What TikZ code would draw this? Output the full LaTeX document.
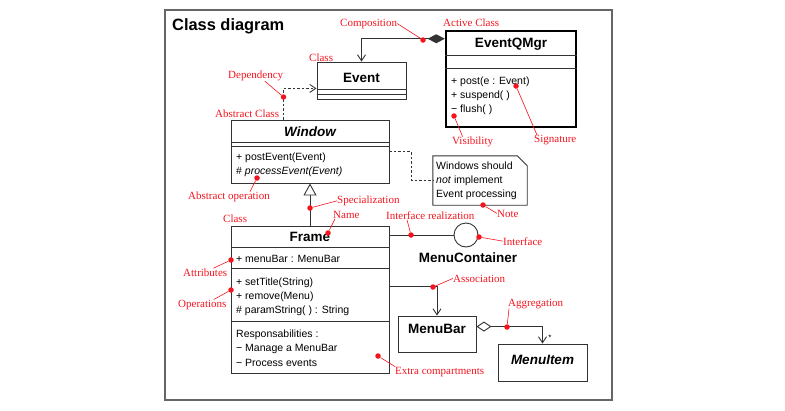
\documentclass[tikz,border=0pt]{standalone}
\usepackage{fontspec}
\setmainfont{Liberation Serif}
\setsansfont{Liberation Sans}
\usetikzlibrary{arrows.meta,calc}
\definecolor{remred}{RGB}{245,20,30}
\tikzset{
  box/.style={draw=black!80, line width=0.9pt, inner sep=0pt},
  link/.style={draw=black!80, line width=0.9pt},
  dotlink/.style={link, dash pattern=on 2.5pt off 2pt},
  cname/.style={font=\sffamily\bfseries\fontsize{13.5}{15}\selectfont, inner sep=0pt, anchor=base},
  member/.style={font=\sffamily\fontsize{10.5}{12}\selectfont, inner sep=0pt, anchor=base west},
  remark/.style={font=\fontsize{11}{12}\selectfont, text=remred, inner sep=0pt, anchor=base west},
  rdot/.style={circle, fill=remred, inner sep=0pt, minimum size=5.5pt},
  rline/.style={draw=remred, line width=0.6pt},
  barb/.style={-{Straight Barb[length=6pt,width=8pt]}},
}
\begin{document}
\begin{tikzpicture}[x=1pt, y=-1pt]
        \useasboundingbox (0,0) rectangle (785,410);
        \draw[black!60, line width=1.3pt] (165,10) rectangle (612,400);
        \node[font=\sffamily\bfseries\fontsize{16.4}{18}\selectfont, inner sep=0pt, anchor=base west] (title) at (172,30) {Class diagram};

        % classes
        \node[box, minimum width=89pt, minimum height=37pt] (event) at (361.5,80.5) {};
        \draw[link] (event.west |- 0,89) -- (event.east |- 0,89);
        \draw[link] (event.west |- 0,94) -- (event.east |- 0,94);
        \node[cname] (eventname) at (361.5,82) {Event};

        \node[draw=black, line width=2.5pt, inner sep=0pt, minimum width=130pt, minimum height=96pt] (qmgr) at (511,79) {};
        \draw[link] (qmgr.west |- 0,55) -- (qmgr.east |- 0,55);
        \draw[link] (qmgr.west |- 0,68) -- (qmgr.east |- 0,68);
        \node[cname] (qmgrname) at (511,47) {EventQMgr};
        \node[member] (qop1) at (451,84) {+ post(e : Event)};
        \node[member] (qop2) at (451,98) {+ suspend( )};
        \node[member] (qop3) at (451,112) {− flush( )};

        \node[box, minimum width=158pt, minimum height=63pt] (window) at (310,151.5) {};
        \draw[link] (window.west |- 0,142) -- (window.east |- 0,142);
        \draw[link] (window.west |- 0,146) -- (window.east |- 0,146);
        \node[cname, font=\sffamily\bfseries\itshape\fontsize{13.5}{15}\selectfont] (windowname) at (310,136) {Window};
        \node[member] (wop1) at (236,160) {+ postEvent(Event)};
        \node[member] (wop2) at (236,174) {\# \textit{processEvent(Event)}};

        \node[box, minimum width=158pt, minimum height=147pt] (frame) at (310,299.5) {};
        \draw[link] (frame.west |- 0,247) -- (frame.east |- 0,247);
        \draw[link] (frame.west |- 0,268) -- (frame.east |- 0,268);
        \draw[link] (frame.west |- 0,321) -- (frame.east |- 0,321);
        \node[cname] (framename) at (310,241) {Frame};
        \node[member] (fatt) at (236,262) {+ menuBar : MenuBar};
        \node[member] (fop1) at (236,285) {+ setTitle(String)};
        \node[member] (fop2) at (236,299) {+ remove(Menu)};
        \node[member] (fop3) at (236,313) {\# paramString( ) : String};
        \node[member] (fres1) at (236,337) {Responsabilities :};
        \node[member] (fres2) at (236,351.5) {− Manage a MenuBar};
        \node[member] (fres3) at (236,366) {− Process events};

        \node[box, minimum width=78pt, minimum height=36pt] (menubar) at (437,334) {};
        \node[cname] (menubarname) at (437,333) {MenuBar};
        \node[box, minimum width=89pt, minimum height=37pt] (menuitem) at (542.5,362.5) {};
        \node[cname, font=\sffamily\bfseries\itshape\fontsize{13.5}{15}\selectfont] (menuitemname) at (542.5,364) {MenuItem};

        \node[box, circle, minimum size=24pt] (iface) at (466,235) {};
        \node[cname] (ifacename) at (468,262) {MenuContainer};

        % note
        \node[minimum width=94pt, minimum height=49pt, inner sep=0pt] (note) at (480,180.5) {};
        \draw[link] (note.north west) -- ($(note.north east)+(-10,0)$) -- ($(note.north east)+(0,10)$) -- (note.south east) -- (note.south west) -- cycle;
        \node[member] (note1) at (436,169.5) {Windows should};
        \node[member] (note2) at (436,183.5) {\textit{not} implement};
        \node[member] (note3) at (436,197.5) {Event processing};

        % connectors
        \draw[link, {Diamond[length=17pt,width=9pt]}-{Straight Barb[length=6pt,width=8pt]}] ($(qmgr.north west)+(0,9)$) -| (event.north);
        \draw[dotlink, barb] (window.north -| 283.5,0) |- ($(event.south west)+(0,-11)$);
        \draw[dotlink] ($(window.north east)+(0,32)$) -- ++(22,0) |- (note.west);
        \draw[link, -{Triangle[open, length=12pt, width=13pt]}] (frame.north) -- (window.south);
        \draw[link] (frame.east |- iface.west) -- (iface.west);
        \draw[link, barb] ($(frame.north east)+(0,61)$) -| (menubar.north);
        \draw[link, {Diamond[open,length=15pt,width=10pt]}-{Straight Barb[length=6pt,width=8pt]}] ($(menubar.north east)+(0,11)$) -| (menuitem.north);
        \node[font=\sffamily\fontsize{8}{9}\selectfont, inner sep=0pt] (mult) at (550,338) {*};

        % remarks
        \node[remark] (lcomp) at (340,26) {Composition};
        \node[remark] (lactive) at (443,26) {Active Class};
        \node[remark] (lclass) at (309,61) {Class};
        \node[remark] (ldep) at (228,78.5) {Dependency};
        \node[remark] (labs) at (215,117) {Abstract Class};
        \node[remark] (lvis) at (452,144.5) {Visibility};
        \node[remark] (lsig) at (534,142.5) {Signature};
        \node[remark] (labsop) at (188,199.5) {Abstract operation};
        \node[remark] (lspec) at (337,203.5) {Specialization};
        \node[remark] (lname) at (333,218.5) {Name};
        \node[remark] (lclass2) at (223,222.5) {Class};
        \node[remark] (lireal) at (386,219.5) {Interface realization};
        \node[remark] (lnote) at (497,217) {Note};
        \node[remark] (liface) at (503,245) {Interface};
        \node[remark] (lattr) at (183,276) {Attributes};
        \node[remark] (loper) at (178,307) {Operations};
        \node[remark] (lassoc) at (453,282) {Association};
        \node[remark] (laggr) at (508,306) {Aggregation};
        \node[remark] (lextra) at (395,374) {Extra compartments};

        \node[rdot] (dcomp) at (423,40) {};
        \node[rdot] (ddep) at (283.5,97) {};
        \node[rdot] (dvis) at (454,116) {};
        \node[rdot] (dsig) at (516,86) {};
        \node[rdot] (dabsop) at (257,178) {};
        \node[rdot] (dspec) at (310,208) {};
        \node[rdot] (dname) at (328,233) {};
        \node[rdot] (direal) at (411,235) {};
        \node[rdot] (dnote) at (483,205) {};
        \node[rdot] (diface) at (479,237) {};
        \node[rdot] (dattr) at (231,260) {};
        \node[rdot] (doper) at (231,290) {};
        \node[rdot] (dassoc) at (433,287) {};
        \node[rdot] (daggr) at (507,327) {};
        \node[rdot] (dextra) at (378,356) {};

        \draw[rline] (lcomp.east) -- (dcomp);
        \draw[rline] ($(ldep.south)+(9,0)$) -- (ddep);
        \draw[rline] ($(lvis.north)+(-10,0)$) -- (dvis);
        \draw[rline] ($(lsig.north west)+(3,0)$) -- (dsig);
        \draw[rline] ($(labsop.north)+(21,0)$) -- (dabsop);
        \draw[rline] (lspec.west) -- (dspec);
        \draw[rline] ($(lname.south west)+(2,0)$) -- (dname);
        \draw[rline] ($(lireal.south west)+(21,0)$) -- (direal);
        \draw[rline] (lnote.west) -- (dnote);
        \draw[rline] (liface.west) -- (diface);
        \draw[rline] ($(lattr.north east)+(-14,0)$) -- (dattr);
        \draw[rline] ($(loper.north east)+(-13,0)$) -- (doper);
        \draw[rline] (lassoc.west) -- (dassoc);
        \draw[rline] ($(laggr.south west)+(1,0)$) -- (daggr);
        \draw[rline] (lextra.north west) -- (dextra);
    \end{tikzpicture}
\end{document}
